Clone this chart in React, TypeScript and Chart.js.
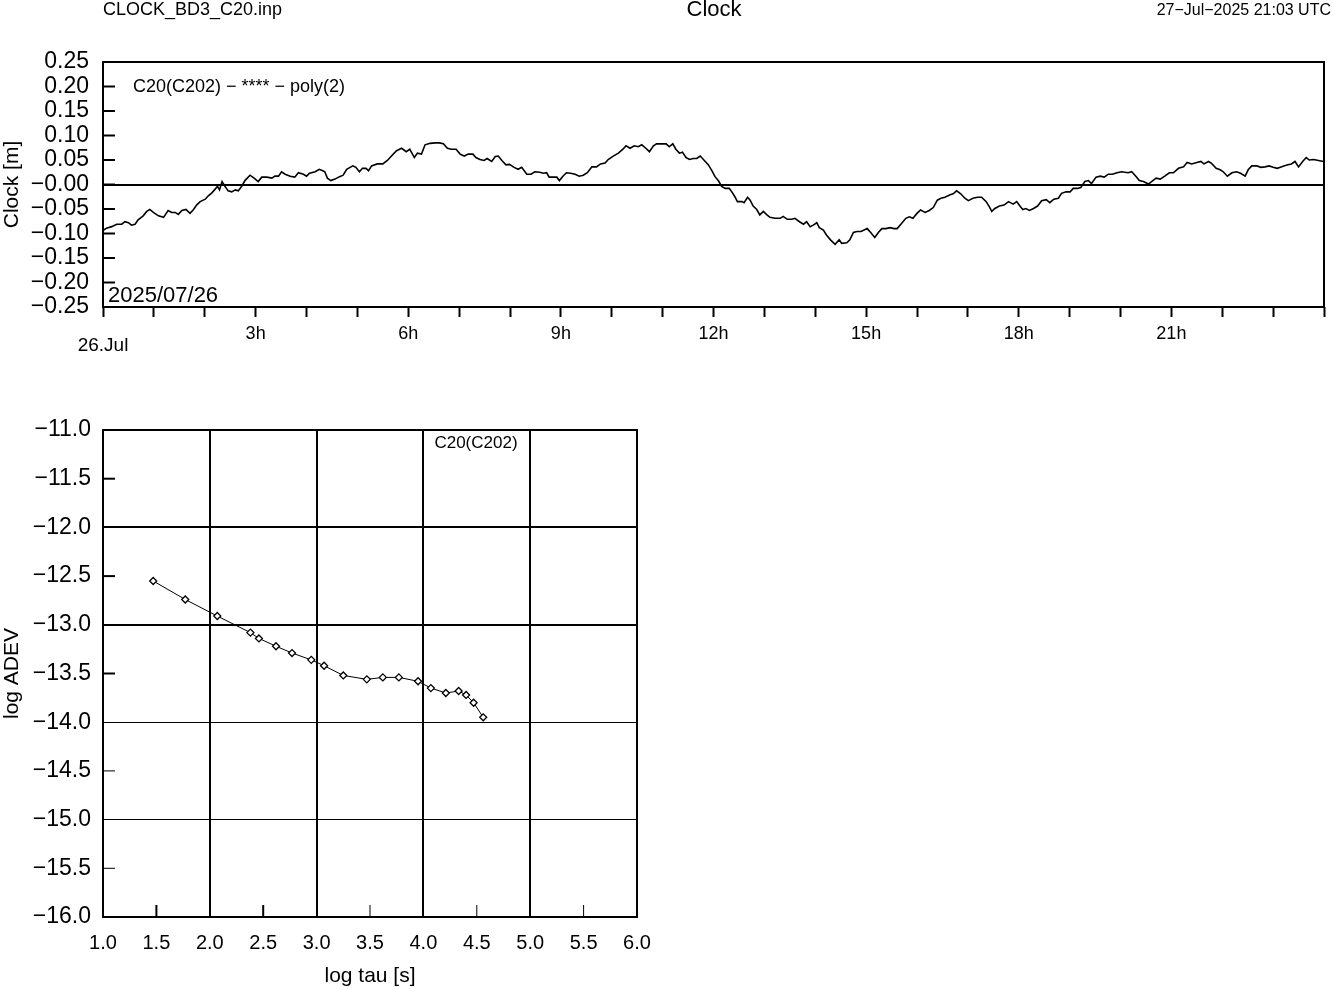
import React, { useEffect, useRef } from "react";
import { Chart, registerables } from "chart.js";

Chart.register(...registerables);

const FONT = '"Liberation Sans", Arial, Helvetica, sans-serif';

// ---------- texts ----------
const fileName = "CLOCK_BD3_C20.inp";
const mainTitle = "Clock";
const stampText = "27\u2212Jul\u22122025 21:03 UTC";
const clockSeriesLabel = "C20(C202) \u2212 **** \u2212 poly(2)";
const dateText = "2025/07/26";
const dayLabel = "26.Jul";
const clockAxisTitle = "Clock [m]";
const adevSeriesLabel = "C20(C202)";
const adevYTitle = "log ADEV";
const adevXTitle = "log tau [s]";

// ---------- top panel: clock residuals ----------
const labelledHours = [3, 6, 9, 12, 15, 18, 21];

const clockHours = [
  0.0, 0.07, 0.17, 0.27, 0.37, 0.43, 0.5, 0.56, 0.63, 0.69, 0.79, 0.86, 0.92, 0.99, 1.09, 1.19,
  1.28, 1.35, 1.42, 1.48, 1.55, 1.63, 1.71, 1.78, 1.84, 1.91, 2.01, 2.07, 2.14, 2.2, 2.25, 2.29,
  2.34, 2.4, 2.46, 2.53, 2.6, 2.66, 2.73, 2.79, 2.89, 2.97, 3.05, 3.12, 3.22, 3.32, 3.38, 3.45,
  3.51, 3.58, 3.68, 3.77, 3.84, 3.94, 4.0, 4.06, 4.17, 4.25, 4.32, 4.36, 4.41, 4.48, 4.56, 4.65,
  4.72, 4.79, 4.91, 4.97, 5.04, 5.1, 5.17, 5.22, 5.28, 5.39, 5.5, 5.59, 5.67, 5.77, 5.87, 5.96,
  6.03, 6.12, 6.18, 6.26, 6.33, 6.43, 6.53, 6.61, 6.69, 6.77, 6.85, 6.94, 7.02, 7.1, 7.18, 7.27,
  7.33, 7.41, 7.49, 7.55, 7.64, 7.71, 7.77, 7.84, 7.92, 7.99, 8.08, 8.16, 8.23, 8.33, 8.41, 8.49,
  8.58, 8.66, 8.72, 8.77, 8.85, 8.92, 8.97, 9.04, 9.11, 9.19, 9.28, 9.36, 9.44, 9.52, 9.61, 9.7,
  9.78, 9.87, 9.93, 10.03, 10.13, 10.22, 10.28, 10.36, 10.44, 10.52, 10.59, 10.67, 10.74, 10.82,
  10.88, 10.98, 11.07, 11.13, 11.2, 11.26, 11.33, 11.39, 11.46, 11.53, 11.6, 11.67, 11.74, 11.82,
  11.9, 11.97, 12.03, 12.1, 12.16, 12.23, 12.31, 12.36, 12.42, 12.47, 12.56, 12.6, 12.67, 12.72,
  12.78, 12.85, 12.91, 12.98, 13.05, 13.11, 13.21, 13.31, 13.37, 13.45, 13.54, 13.6, 13.69, 13.77,
  13.83, 13.9, 13.96, 14.03, 14.08, 14.16, 14.22, 14.3, 14.39, 14.47, 14.52, 14.62, 14.68, 14.75,
  14.82, 14.9, 14.96, 15.02, 15.09, 15.17, 15.24, 15.31, 15.39, 15.47, 15.55, 15.61, 15.7, 15.78,
  15.85, 15.92, 16.0, 16.07, 16.16, 16.24, 16.32, 16.4, 16.47, 16.55, 16.65, 16.71, 16.78, 16.86,
  16.94, 17.01, 17.1, 17.19, 17.27, 17.36, 17.42, 17.47, 17.53, 17.62, 17.71, 17.8, 17.89, 17.96,
  18.03, 18.08, 18.14, 18.21, 18.29, 18.37, 18.45, 18.54, 18.61, 18.69, 18.78, 18.84, 18.93, 19.01,
  19.07, 19.15, 19.22, 19.3, 19.37, 19.43, 19.52, 19.6, 19.68, 19.76, 19.84, 19.93, 20.02, 20.15,
  20.22, 20.31, 20.37, 20.45, 20.55, 20.61, 20.7, 20.78, 20.87, 20.96, 21.04, 21.14, 21.24, 21.31,
  21.4, 21.5, 21.58, 21.64, 21.73, 21.79, 21.88, 21.96, 22.02, 22.1, 22.19, 22.28, 22.36, 22.45,
  22.51, 22.58, 22.68, 22.76, 22.84, 22.92, 23.0, 23.08, 23.17, 23.27, 23.36, 23.43, 23.5, 23.58,
  23.65, 23.71, 23.8, 23.89, 23.99,
];

const clockValues = [
  -0.094, -0.089, -0.086, -0.081, -0.081, -0.076, -0.078, -0.083, -0.081, -0.072, -0.064, -0.055,
  -0.051, -0.057, -0.064, -0.067, -0.053, -0.057, -0.057, -0.061, -0.053, -0.051, -0.059, -0.051,
  -0.042, -0.035, -0.03, -0.023, -0.017, -0.01, -0.004, -0.011, 0.006, -0.004, -0.013, -0.015,
  -0.011, -0.013, -0.003, 0.008, 0.019, 0.013, 0.006, 0.015, 0.015, 0.013, 0.017, 0.017, 0.026,
  0.021, 0.017, 0.015, 0.024, 0.021, 0.017, 0.023, 0.026, 0.031, 0.028, 0.026, 0.013, 0.008, 0.011,
  0.016, 0.019, 0.031, 0.038, 0.035, 0.026, 0.033, 0.033, 0.028, 0.038, 0.042, 0.042, 0.049, 0.058,
  0.069, 0.074, 0.067, 0.072, 0.055, 0.064, 0.062, 0.081, 0.084, 0.085, 0.085, 0.083, 0.074, 0.072,
  0.072, 0.062, 0.058, 0.062, 0.062, 0.055, 0.051, 0.049, 0.053, 0.047, 0.057, 0.058, 0.049, 0.04,
  0.041, 0.035, 0.031, 0.035, 0.021, 0.021, 0.026, 0.025, 0.023, 0.024, 0.015, 0.015, 0.015, 0.008,
  0.017, 0.024, 0.023, 0.021, 0.017, 0.019, 0.024, 0.036, 0.036, 0.042, 0.044, 0.051, 0.058, 0.064,
  0.072, 0.079, 0.074, 0.079, 0.077, 0.081, 0.074, 0.067, 0.079, 0.083, 0.083, 0.083, 0.077, 0.083,
  0.072, 0.064, 0.066, 0.055, 0.051, 0.053, 0.053, 0.058, 0.049, 0.04, 0.028, 0.016, 0.007, -0.004,
  -0.008, -0.008, -0.015, -0.025, -0.035, -0.035, -0.037, -0.026, -0.032, -0.044, -0.051, -0.062,
  -0.055, -0.062, -0.067, -0.069, -0.069, -0.065, -0.071, -0.071, -0.069, -0.076, -0.081, -0.076,
  -0.086, -0.083, -0.078, -0.088, -0.093, -0.103, -0.113, -0.122, -0.113, -0.12, -0.119, -0.113,
  -0.098, -0.096, -0.096, -0.093, -0.09, -0.098, -0.108, -0.098, -0.09, -0.09, -0.088, -0.09, -0.09,
  -0.079, -0.069, -0.066, -0.069, -0.059, -0.052, -0.057, -0.053, -0.047, -0.032, -0.028, -0.026,
  -0.021, -0.019, -0.013, -0.019, -0.028, -0.033, -0.028, -0.026, -0.026, -0.035, -0.045, -0.055,
  -0.049, -0.044, -0.042, -0.035, -0.04, -0.035, -0.045, -0.051, -0.049, -0.053, -0.049, -0.044,
  -0.033, -0.031, -0.037, -0.03, -0.028, -0.018, -0.015, -0.015, -0.008, -0.008, -0.006, 0.006,
  0.008, 0.002, 0.015, 0.017, 0.015, 0.021, 0.021, 0.024, 0.026, 0.024, 0.026, 0.016, 0.008, 0.006,
  0.001, 0.006, 0.013, 0.011, 0.017, 0.024, 0.024, 0.033, 0.036, 0.045, 0.042, 0.045, 0.047, 0.042,
  0.047, 0.043, 0.033, 0.03, 0.026, 0.017, 0.024, 0.026, 0.023, 0.017, 0.03, 0.038, 0.038, 0.035,
  0.036, 0.038, 0.035, 0.033, 0.036, 0.04, 0.042, 0.047, 0.036, 0.047, 0.055, 0.05, 0.051, 0.049,
  0.047,
];

// ---------- bottom panel: Allan deviation ----------
const adevLogTau = [
  1.47, 1.77, 2.07, 2.38, 2.46, 2.62, 2.77, 2.95, 3.07, 3.25, 3.47, 3.62, 3.77, 3.95, 4.07, 4.21,
  4.33, 4.4, 4.47, 4.56,
];
const adevLogValue = [
  -12.55, -12.74, -12.91, -13.08, -13.14, -13.22, -13.29, -13.36, -13.42, -13.52, -13.56, -13.54,
  -13.54, -13.58, -13.65, -13.7, -13.68, -13.72, -13.8, -13.95,
];

const fmtSigned = (v: number, d: number) => {
  const r = Math.round(v * 1000) / 1000;
  return r <= 0 ? "\u2212" + Math.abs(r).toFixed(d) : r.toFixed(d);
};

const topDecor = {
  id: "topDecor",
  afterDraw(chart: any) {
    const { ctx, chartArea: a, scales } = chart;
    const y = scales.y;
    const x = scales.x;
    ctx.save();
    ctx.strokeStyle = "#000";
    ctx.lineWidth = 2;
    for (const t of y.ticks) {
      const py = y.getPixelForValue(t.value);
      ctx.beginPath();
      ctx.moveTo(a.left, py);
      ctx.lineTo(a.left + 12, py);
      ctx.stroke();
    }
    ctx.strokeRect(a.left, a.top, a.right - a.left, a.bottom - a.top);

    ctx.fillStyle = "#000";
    ctx.textBaseline = "middle";
    ctx.font = `18px ${FONT}`;
    ctx.textAlign = "left";
    ctx.fillText(fileName, 103, 10);
    ctx.font = `22px ${FONT}`;
    ctx.textAlign = "center";
    ctx.fillText(mainTitle, 714, 10);
    ctx.font = `16px ${FONT}`;
    ctx.textAlign = "right";
    ctx.fillText(stampText, 1331, 11);

    ctx.font = `18px ${FONT}`;
    ctx.textAlign = "left";
    ctx.fillText(clockSeriesLabel, a.left + 30, a.top + 25);
    ctx.font = `22px ${FONT}`;
    ctx.textBaseline = "alphabetic";
    ctx.fillText(dateText, a.left + 5, a.bottom - 5);

    ctx.font = `19px ${FONT}`;
    ctx.textAlign = "center";
    ctx.textBaseline = "middle";
    ctx.fillText(dayLabel, x.getPixelForValue(0), a.bottom + 39);
    ctx.restore();
  },
};

const bottomDecor = {
  id: "bottomDecor",
  afterDraw(chart: any) {
    const { ctx, chartArea: a, scales } = chart;
    const y = scales.y;
    const x = scales.x;
    ctx.save();
    ctx.strokeStyle = "#000";
    for (const t of y.ticks) {
      const v = Math.round(t.value * 10) / 10;
      if (Number.isInteger(v)) continue;
      const py = y.getPixelForValue(t.value);
      ctx.lineWidth = v > -14 ? 2 : 1;
      ctx.beginPath();
      ctx.moveTo(a.left, py);
      ctx.lineTo(a.left + 12, py);
      ctx.stroke();
    }
    for (const t of x.ticks) {
      const v = Math.round(t.value * 10) / 10;
      if (Number.isInteger(v)) continue;
      const px = x.getPixelForValue(t.value);
      ctx.lineWidth = v < 3 ? 2 : 1;
      ctx.beginPath();
      ctx.moveTo(px, a.bottom);
      ctx.lineTo(px, a.bottom - 12);
      ctx.stroke();
    }
    ctx.lineWidth = 2;
    ctx.strokeRect(a.left, a.top, a.right - a.left, a.bottom - a.top);
    ctx.fillStyle = "#000";
    ctx.font = `17px ${FONT}`;
    ctx.textAlign = "left";
    ctx.textBaseline = "middle";
    ctx.fillText(adevSeriesLabel, x.getPixelForValue(4) + 11, a.top + 13);
    ctx.restore();
  },
};

export default function App() {
  const topRef = useRef<HTMLCanvasElement>(null);
  const botRef = useRef<HTMLCanvasElement>(null);

  useEffect(() => {
    Chart.defaults.color = "#000";
    Chart.defaults.font.family = FONT;

    const top = new Chart(topRef.current as HTMLCanvasElement, {
      type: "line",
      data: {
        datasets: [
          {
            data: clockHours.map((h, i) => ({ x: h, y: clockValues[i] })),
            borderColor: "#000",
            borderWidth: 1.6,
            pointRadius: 0,
            tension: 0,
            fill: false,
          },
        ],
      },
      options: {
        responsive: false,
        animation: false,
        events: [],
        layout: { padding: { top: 62, right: 9, left: 0, bottom: 0 } },
        plugins: { legend: { display: false }, tooltip: { enabled: false } },
        scales: {
          x: {
            type: "linear",
            min: 0,
            max: 24,
            afterFit: (s: any) => {
              s.height = 68;
            },
            border: { display: false },
            grid: {
              drawOnChartArea: false,
              drawTicks: true,
              tickLength: 10,
              tickWidth: 2,
              tickColor: "#000",
            },
            ticks: {
              stepSize: 1,
              autoSkip: false,
              maxRotation: 0,
              padding: 6,
              font: { size: 18 },
              callback: (v: any) => (labelledHours.includes(Number(v)) ? `${v}h` : ""),
            },
          },
          y: {
            type: "linear",
            min: -0.25,
            max: 0.25,
            afterFit: (s: any) => {
              s.width = 103;
            },
            border: { display: false },
            title: { display: true, text: clockAxisTitle, font: { size: 21 }, padding: 0 },
            grid: {
              drawTicks: false,
              color: (c: any) => (Math.abs(c.tick.value) < 1e-9 ? "#000" : "rgba(0,0,0,0)"),
              lineWidth: 2,
            },
            ticks: {
              stepSize: 0.05,
              autoSkip: false,
              padding: 14,
              font: { size: 23 },
              callback: (v: any) => fmtSigned(Number(v), 2),
            },
          },
        },
      },
      plugins: [topDecor],
    } as any);

    const bot = new Chart(botRef.current as HTMLCanvasElement, {
      type: "line",
      data: {
        datasets: [
          {
            data: adevLogTau.map((t, i) => ({ x: t, y: adevLogValue[i] })),
            borderColor: "#000",
            borderWidth: 1,
            pointStyle: "rectRot",
            pointRadius: 3.5,
            pointBackgroundColor: "#fff",
            pointBorderColor: "#000",
            pointBorderWidth: 1.3,
            tension: 0,
            fill: false,
          },
        ],
      },
      options: {
        responsive: false,
        animation: false,
        events: [],
        layout: { padding: { top: 50, right: 63, left: 0, bottom: 0 } },
        plugins: { legend: { display: false }, tooltip: { enabled: false } },
        scales: {
          x: {
            type: "linear",
            min: 1,
            max: 6,
            afterFit: (s: any) => {
              s.height = 72;
            },
            border: { display: false },
            title: { display: true, text: adevXTitle, font: { size: 21 }, padding: 0 },
            grid: {
              drawTicks: false,
              color: (c: any) => {
                const v = Math.round(c.tick.value * 10) / 10;
                return Number.isInteger(v) && v > 1 && v < 6 ? "#000" : "rgba(0,0,0,0)";
              },
              lineWidth: 2,
            },
            ticks: {
              stepSize: 0.5,
              autoSkip: false,
              maxRotation: 0,
              padding: 14,
              font: { size: 20 },
              callback: (v: any) => Number(v).toFixed(1),
            },
          },
          y: {
            type: "linear",
            min: -16,
            max: -11,
            afterFit: (s: any) => {
              s.width = 103;
            },
            border: { display: false },
            title: { display: true, text: adevYTitle, font: { size: 21 }, padding: 0 },
            grid: {
              drawTicks: false,
              color: (c: any) => {
                const v = Math.round(c.tick.value * 10) / 10;
                return Number.isInteger(v) && v > -16 && v < -11 ? "#000" : "rgba(0,0,0,0)";
              },
              lineWidth: (c: any) => (c.tick.value > -13.5 ? 2 : 1),
            },
            ticks: {
              stepSize: 0.5,
              autoSkip: false,
              padding: 12,
              font: { size: 23 },
              callback: (v: any) => fmtSigned(Number(v), 1),
            },
          },
        },
      },
      plugins: [bottomDecor],
    } as any);

    return () => {
      top.destroy();
      bot.destroy();
    };
  }, []);

  return (
    <div style={{ position: "absolute", left: 0, top: 0, width: 1333, height: 989, background: "#fff" }}>
      <canvas
        ref={topRef}
        width={1333}
        height={375}
        style={{ position: "absolute", left: 0, top: 0, width: 1333, height: 375 }}
      />
      <canvas
        ref={botRef}
        width={700}
        height={609}
        style={{ position: "absolute", left: 0, top: 380, width: 700, height: 609 }}
      />
    </div>
  );
}
